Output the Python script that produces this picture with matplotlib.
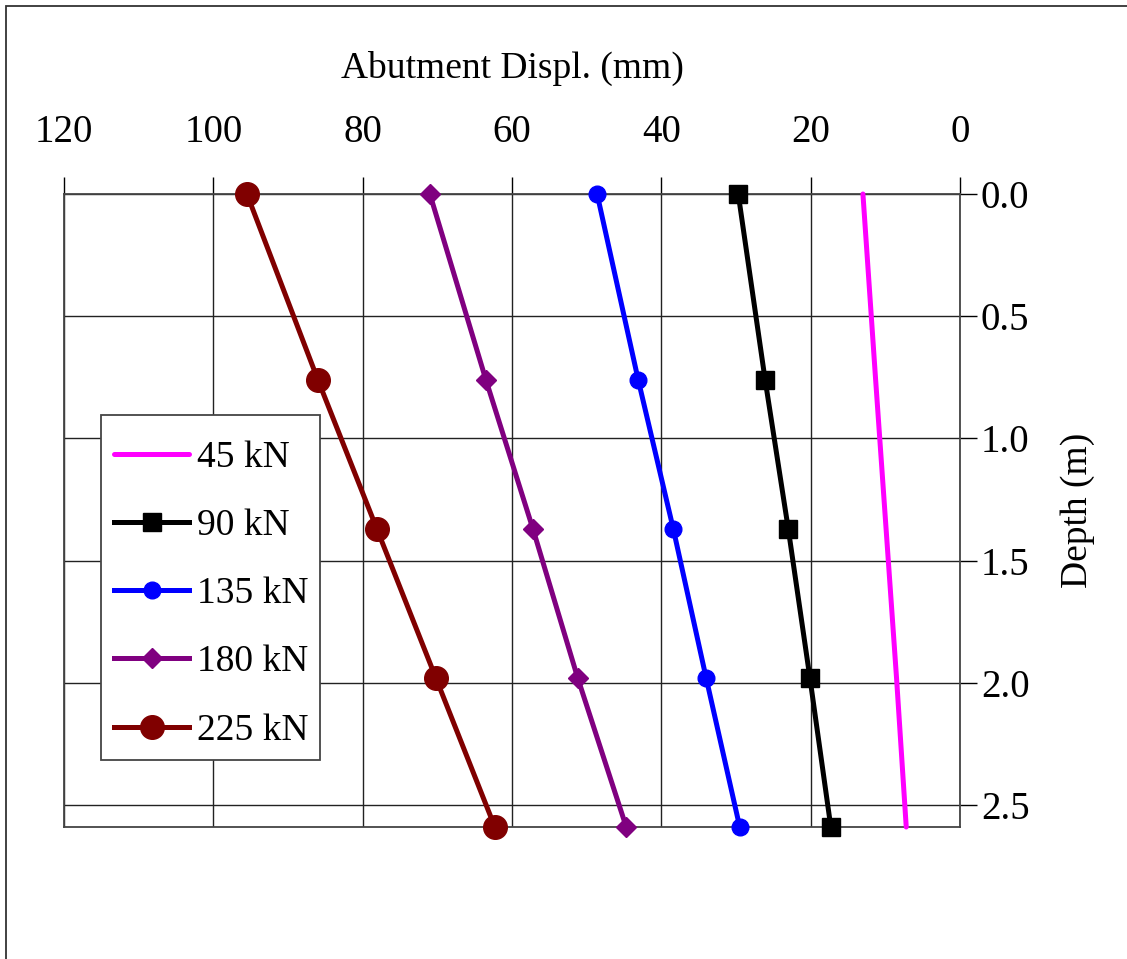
import matplotlib
matplotlib.use("Agg")
import matplotlib.pyplot as plt
from matplotlib.patches import Rectangle

plt.rcParams['font.family'] = ['Liberation Serif', 'DejaVu Serif']

depth = [0.0, 0.76, 1.37, 1.98, 2.59]
labels = ["45 kN", "90 kN", "135 kN", "180 kN", "225 kN"]
d45 = [13.0, 11.3, 9.9, 8.5, 7.2]
d90 = [29.7, 26.1, 23.0, 20.1, 17.3]
d135 = [48.6, 43.1, 38.4, 34.0, 29.5]
d180 = [71.0, 63.5, 57.2, 51.2, 44.7]
d225 = [95.5, 86.0, 78.1, 70.2, 62.3]
x_ticks = [120, 100, 80, 60, 40, 20, 0]
y_ticks = [0.0, 0.5, 1.0, 1.5, 2.0, 2.5]

W, H = 1127, 959
fig = plt.figure(figsize=(W / 100, H / 100), dpi=100)
ax = fig.add_axes([64 / W, 1 - 827 / H, (960 - 64) / W, (827 - 194) / H])

# figure border (left and top visible)
fig.patches.append(Rectangle((6 / W, -0.1), 1.2, (1 - 6 / H) + 0.1,
                             transform=fig.transFigure, fill=False,
                             edgecolor='#333333', linewidth=1.3))

lw = 3.6
ax.plot(d45, depth, color='#FF00FF', lw=lw, solid_capstyle='round', label=labels[0], zorder=5, clip_on=False)
ax.plot(d90, depth, color='black', lw=lw, marker='s', ms=13, label=labels[1], zorder=5, clip_on=False)
ax.plot(d135, depth, color='#0000FF', lw=lw, marker='o', ms=12, label=labels[2], zorder=5, clip_on=False)
ax.plot(d180, depth, color='#800080', lw=lw, marker='D', ms=10, label=labels[3], zorder=5, clip_on=False)
ax.plot(d225, depth, color='#800000', lw=lw, marker='o', ms=17, label=labels[4], zorder=5, clip_on=False)

ax.set_xlim(120, 0)
ax.set_ylim(2.59, 0)
ax.set_xticks(x_ticks)
ax.set_yticks(y_ticks)
ax.set_xticklabels([str(v) for v in x_ticks])
ax.set_yticklabels([f"{v:.1f}" for v in y_ticks])

ax.xaxis.set_ticks_position('top')
ax.xaxis.set_label_position('top')
ax.yaxis.set_ticks_position('right')
ax.yaxis.set_label_position('right')
ax.tick_params(axis='x', direction='out', length=12, width=1, pad=19, labelsize=28)
ax.tick_params(axis='y', direction='out', length=12, width=1, pad=3, labelsize=28)

ax.set_xlabel("Abutment Displ. (mm)", fontsize=27, labelpad=26)
ax.set_ylabel("Depth (m)", fontsize=27, labelpad=22, rotation=90)

ax.grid(True, color='#222222', linewidth=1.0)
ax.set_axisbelow(True)
for s in ax.spines.values():
    s.set_color('#444444')
    s.set_linewidth(1.3)

# legend frame drawn as a separate box
frame = Rectangle((101 / W, 1 - 760 / H), 219 / W, 345 / H, transform=fig.transFigure,
                  facecolor='white', edgecolor='#444444', linewidth=1.3,
                  zorder=9, clip_on=False)
ax.add_patch(frame)

leg = ax.legend(loc='upper left', bbox_to_anchor=(101 / W, 1 - 427 / H),
                bbox_transform=fig.transFigure, fontsize=27, frameon=False,
                handlelength=2.0, handletextpad=0.2, labelspacing=0.9,
                borderpad=0.35, borderaxespad=0)
leg.set_zorder(10)

fig.savefig("out.png", dpi=100)
